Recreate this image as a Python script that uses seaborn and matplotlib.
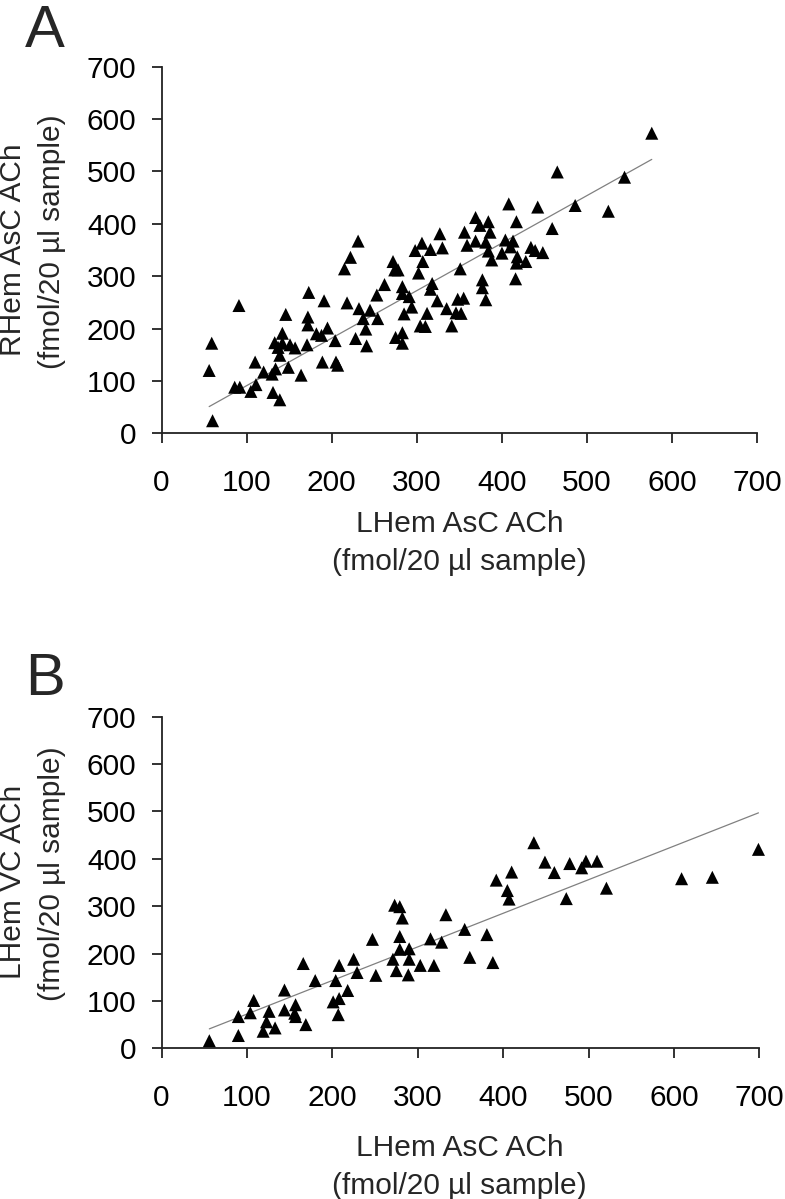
import matplotlib
matplotlib.use("Agg")
import matplotlib.pyplot as plt
import seaborn as sns
import pandas as pd

# --- Data ---
# Panel A: LHem AsC ACh vs RHem AsC ACh
a_lhem_asc = [60, 56, 59, 91, 86, 92, 105, 111, 110, 120, 130, 134, 131, 139, 133, 139, 137,
              142, 146, 149, 151, 157, 142, 164, 171, 172, 172, 173, 182, 188, 191, 195, 189,
              204, 205, 207, 215, 222, 231, 218, 228, 232, 237, 240, 241, 245, 254, 253, 262,
              272, 274, 278, 283, 283, 291, 294, 285, 275, 283, 283, 298, 306, 316, 307, 302,
              318, 316, 324, 312, 304, 310, 327, 330, 335, 341, 351, 348, 355, 346, 352, 356,
              359, 576, 465, 544, 486, 525, 408, 442, 459, 417, 369, 374, 384, 386, 369, 381,
              384, 388, 404, 413, 400, 410, 418, 417, 428, 434, 439, 448, 416, 377, 377, 381]
a_rhem_asc = [24, 120, 172, 244, 88, 88, 80, 93, 136, 117, 113, 123, 78, 64, 173, 149, 164,
              191, 227, 126, 169, 163, 172, 111, 169, 222, 207, 269, 190, 187, 253, 201, 136,
              177, 136, 130, 314, 336, 367, 249, 181, 238, 219, 199, 167, 235, 219, 264, 284,
              328, 312, 312, 280, 267, 261, 241, 228, 183, 192, 172, 349, 363, 351, 328, 306,
              286, 275, 253, 229, 205, 204, 381, 354, 238, 205, 314, 256, 258, 230, 229, 384,
              359, 573, 499, 489, 435, 424, 438, 432, 391, 404, 412, 397, 404, 384, 367, 365,
              348, 331, 369, 367, 344, 356, 337, 325, 328, 355, 349, 345, 295, 293, 278, 255]
# trend line as drawn in the figure (end points)
a_fit_x = [56, 576]
a_fit_y = [51, 523]

# Panel B: LHem AsC ACh vs LHem VC ACh
b_lhem_asc = [56, 90, 90, 104, 108, 119, 123, 126, 133, 144, 144, 157, 157, 156, 169, 166,
              180, 201, 204, 208, 208, 207, 218, 225, 229, 247, 251, 273, 279, 282, 279, 279,
              290, 271, 275, 290, 289, 303, 315, 328, 319, 333, 355, 361, 436, 449, 460, 478,
              492, 497, 510, 521, 474, 392, 410, 405, 407, 381, 388, 609, 645, 699]
b_lhem_vc = [16, 67, 27, 75, 101, 36, 56, 78, 43, 123, 81, 92, 67, 74, 50, 179,
             143, 98, 143, 175, 105, 71, 122, 188, 160, 230, 154, 302, 299, 275, 236, 209,
             210, 188, 164, 188, 155, 175, 231, 224, 175, 282, 251, 192, 434, 393, 371, 390,
             381, 395, 395, 338, 316, 355, 372, 333, 315, 240, 181, 358, 361, 420]
b_fit_x = [56, 699]
b_fit_y = [41, 497]

axis_ticks = [0, 100, 200, 300, 400, 500, 600, 700]
x_label = ["LHem AsC ACh", "(fmol/20 µl sample)"]
y_label_a = ["RHem AsC ACh", "(fmol/20 µl sample)"]
y_label_b = ["LHem VC ACh", "(fmol/20 µl sample)"]

# --- Style ---
sns.set_theme(style="ticks")
plt.rcParams["font.family"] = ["Liberation Sans", "DejaVu Sans"]

W, H = 785, 1199
FS = 21.5
fig = plt.figure(figsize=(W / 100, H / 100), dpi=100)


def px_axes(left, right, top, bottom):
    return fig.add_axes([left / W, 1 - bottom / H, (right - left) / W, (bottom - top) / H])


def draw_panel(ax, x, y, fit_x, fit_y):
    df = pd.DataFrame({"x": x, "y": y})
    sns.lineplot(x=fit_x, y=fit_y, color="#808080", lw=0.9, ax=ax)
    sns.scatterplot(data=df, x="x", y="y", marker="^", s=88, color="black",
                    edgecolor="none", ax=ax, zorder=3, clip_on=False)
    ax.set_xlim(0, 700)
    ax.set_ylim(0, 700)
    ax.set_xticks(axis_ticks)
    ax.set_yticks(axis_ticks)
    ax.set_xlabel("")
    ax.set_ylabel("")
    sns.despine(ax=ax)
    for sp in ("left", "bottom"):
        ax.spines[sp].set_linewidth(1.3)
        ax.spines[sp].set_color("#222222")
    ax.tick_params(axis="both", direction="out", length=7, width=1.3,
                   color="#222222", labelsize=FS, labelcolor="black")
    ax.tick_params(axis="x", pad=19)
    ax.tick_params(axis="y", pad=11)


def text_px(x, y, s, **kw):
    fig.text(x / W, 1 - y / H, s, **kw)


# Panel A
ax_a = px_axes(161.5, 757.3, 66.7, 433.3)
draw_panel(ax_a, a_lhem_asc, a_rhem_asc, a_fit_x, a_fit_y)
text_px(45, 47, "A", fontsize=43, ha="center", va="baseline")
text_px(459.4, 532, x_label[0], fontsize=FS, ha="center", va="baseline")
text_px(459.4, 570, x_label[1], fontsize=FS, ha="center", va="baseline")
text_px(21, 250, y_label_a[0], fontsize=FS, ha="center", va="baseline",
        rotation=90, rotation_mode="anchor")
text_px(60, 242, y_label_a[1], fontsize=FS, ha="center", va="baseline",
        rotation=90, rotation_mode="anchor")

# Panel B
ax_b = px_axes(161.5, 759.3, 716.7, 1048.3)
draw_panel(ax_b, b_lhem_asc, b_lhem_vc, b_fit_x, b_fit_y)
text_px(45, 695, "B", fontsize=43, ha="center", va="baseline")
text_px(459.4, 1156, x_label[0], fontsize=FS, ha="center", va="baseline")
text_px(459.4, 1194, x_label[1], fontsize=FS, ha="center", va="baseline")
text_px(21, 882, y_label_b[0], fontsize=FS, ha="center", va="baseline",
        rotation=90, rotation_mode="anchor")
text_px(60, 874, y_label_b[1], fontsize=FS, ha="center", va="baseline",
        rotation=90, rotation_mode="anchor")

fig.savefig("out.png", dpi=100)
